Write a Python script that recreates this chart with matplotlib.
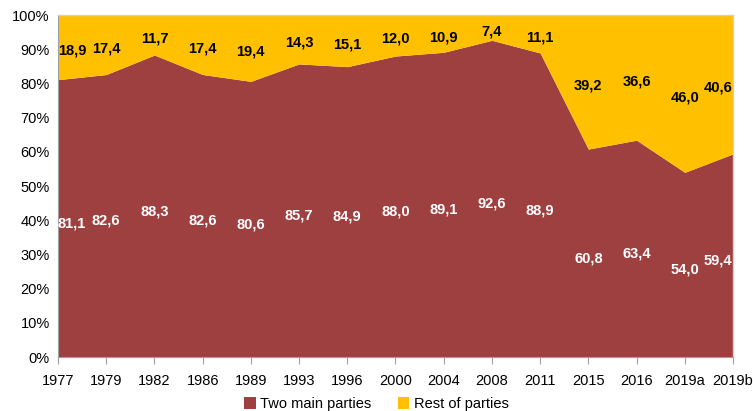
import matplotlib
matplotlib.use("Agg")
import matplotlib.pyplot as plt
from matplotlib.patches import Patch
import numpy as np

categories = ["1977", "1979", "1982", "1986", "1989", "1993", "1996", "2000",
              "2004", "2008", "2011", "2015", "2016", "2019a", "2019b"]
two_main = [81.1, 82.6, 88.3, 82.6, 80.6, 85.7, 84.9, 88.0, 89.1, 92.6, 88.9,
            60.8, 63.4, 54.0, 59.4]
rest = [18.9, 17.4, 11.7, 17.4, 19.4, 14.3, 15.1, 12.0, 10.9, 7.4, 11.1,
        39.2, 36.6, 46.0, 40.6]
yticks = [0, 10, 20, 30, 40, 50, 60, 70, 80, 90, 100]

RED = "#9F4040"
YEL = "#FFC000"

plt.rcParams['font.family'] = ['Liberation Sans', 'DejaVu Sans']

fig = plt.figure(figsize=(7.53, 4.11), dpi=100)
ax = fig.add_axes([58/753, 54/411, 675/753, 342/411])

x = np.arange(len(categories))
a = np.array(two_main)
b = np.array(rest)
ax.fill_between(x, 0, a, color=RED, linewidth=0, zorder=2)
ax.fill_between(x, a, a + b, color=YEL, linewidth=0, zorder=2)

for yt in yticks:
    ax.axhline(yt, color="#d0d0d0", lw=0.8, zorder=1)

ax.set_xlim(0, len(categories) - 1)
ax.set_ylim(0, 100)
ax.set_yticks(yticks)
ax.set_yticklabels([f"{v}%" for v in yticks], fontsize=10.5)
ax.set_xticks(x)
ax.set_xticklabels(categories, fontsize=10.5)
ax.tick_params(axis='y', length=0, pad=6)
ax.tick_params(axis='x', length=5, width=0.8, color="#a0a0a0", direction='out', pad=7)

for s in ['top', 'right']:
    ax.spines[s].set_color("#d0d0d0")
    ax.spines[s].set_linewidth(1.0)
for s in ['left', 'bottom']:
    ax.spines[s].set_color("#a0a0a0")
    ax.spines[s].set_linewidth(0.8)

n = len(categories)
for i in range(n):
    ha = 'center'
    xi = x[i]
    if i == 0:
        ha = 'left'
    elif i == n - 1:
        ha = 'right'
        xi = x[i] - 0.02
    ax.text(xi, a[i] / 2 - 1.5, f"{a[i]:.1f}".replace('.', ','), color='white',
            fontsize=10.5, fontweight='bold', ha=ha, va='center', zorder=5)
    ax.text(xi, a[i] + b[i] / 2 - 1.0, f"{b[i]:.1f}".replace('.', ','), color='black',
            fontsize=10.5, fontweight='bold', ha=ha, va='center', zorder=5)

handles = [Patch(facecolor=RED, edgecolor='none', label='Two main parties'),
           Patch(facecolor=YEL, edgecolor='none', label='Rest of parties')]
fig.legend(handles=handles, loc='center', bbox_to_anchor=(0.5, 7/411), ncol=2,
           frameon=False, fontsize=10.5, handlelength=0.8, handleheight=0.8,
           handletextpad=0.3, columnspacing=1.8)

fig.savefig("out.png", dpi=100)
